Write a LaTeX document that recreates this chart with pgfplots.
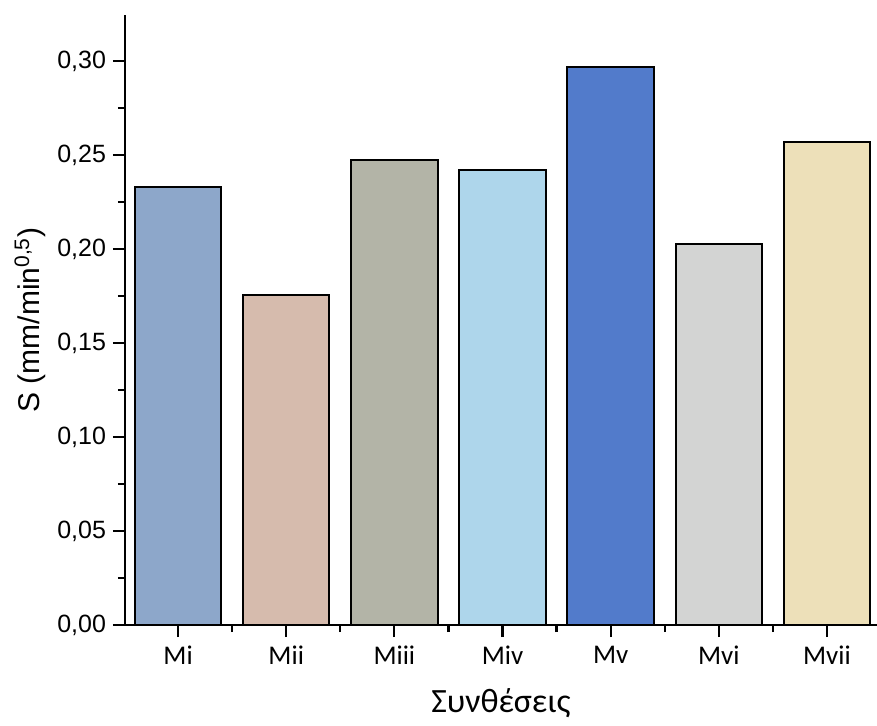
\documentclass[border=0pt]{standalone}
\usepackage{fontspec}
\setmainfont{Liberation Sans}
\newfontfamily\carlito{Carlito}
\usepackage{pgfplots}
\pgfplotsset{compat=1.18}
\definecolor{c1}{HTML}{8DA7CA}
\definecolor{c2}{HTML}{D6BBAD}
\definecolor{c3}{HTML}{B3B4A7}
\definecolor{c4}{HTML}{AED6EB}
\definecolor{c5}{HTML}{527BCB}
\definecolor{c6}{HTML}{D3D4D3}
\definecolor{c7}{HTML}{EDE0B9}
\begin{document}
\begin{tikzpicture}
\begin{axis}[
  scale only axis, width=376pt, height=305pt,
  xmin=0.509, xmax=7.463, ymin=0, ymax=0.3245,
  axis x line*=bottom, axis y line*=left,
  axis line style={line width=1.3pt},
  tick align=outside,
  major tick length=6pt, minor tick length=3.5pt,
  tick style={line width=1.1pt, black},
  xtick={1,...,7},
  xticklabels={Mi,Mii,Miii,Miv,Mv,Mvi,Mvii},
  minor xtick={1.5,2.5,3.5,4.5,5.5,6.5},
  ytick={0,0.05,...,0.31},
  minor ytick={0.025,0.075,...,0.33},
  yticklabel style={font=\fontsize{12.5}{14}\selectfont,
    /pgf/number format/fixed, /pgf/number format/fixed zerofill,
    /pgf/number format/precision=2, /pgf/number format/use comma,
    /pgf/number format/assume math mode=true},
  xticklabel style={font=\carlito\fontsize{13.5}{15}\selectfont, yshift=-1pt},
  ylabel={S (mm/min\textsuperscript{0,5})},
  ylabel style={at={(axis description cs:-0.1263,0.5)}, anchor=center, font=\fontsize{15}{17}\selectfont},
  xlabel={Συνθέσεις},
  xlabel style={at={(axis description cs:0.5,0)}, anchor=center, yshift=-39pt, font=\carlito\fontsize{17}{19}\selectfont},
  ybar, bar width=0.8, bar shift=0pt,
  every axis plot/.append style={draw=black, line width=1pt},
  clip=false,
]
\addplot[fill=c1] coordinates {(1,0.2330)};
\addplot[fill=c2] coordinates {(2,0.1755)};
\addplot[fill=c3] coordinates {(3,0.2475)};
\addplot[fill=c4] coordinates {(4,0.2420)};
\addplot[fill=c5] coordinates {(5,0.2968)};
\addplot[fill=c6] coordinates {(6,0.2025)};
\addplot[fill=c7] coordinates {(7,0.2568)};
\end{axis}
\pgfresetboundingbox
\path[use as bounding box] (-62.5pt,-50pt) rectangle (376pt,312.5pt);
\end{tikzpicture}
\end{document}
